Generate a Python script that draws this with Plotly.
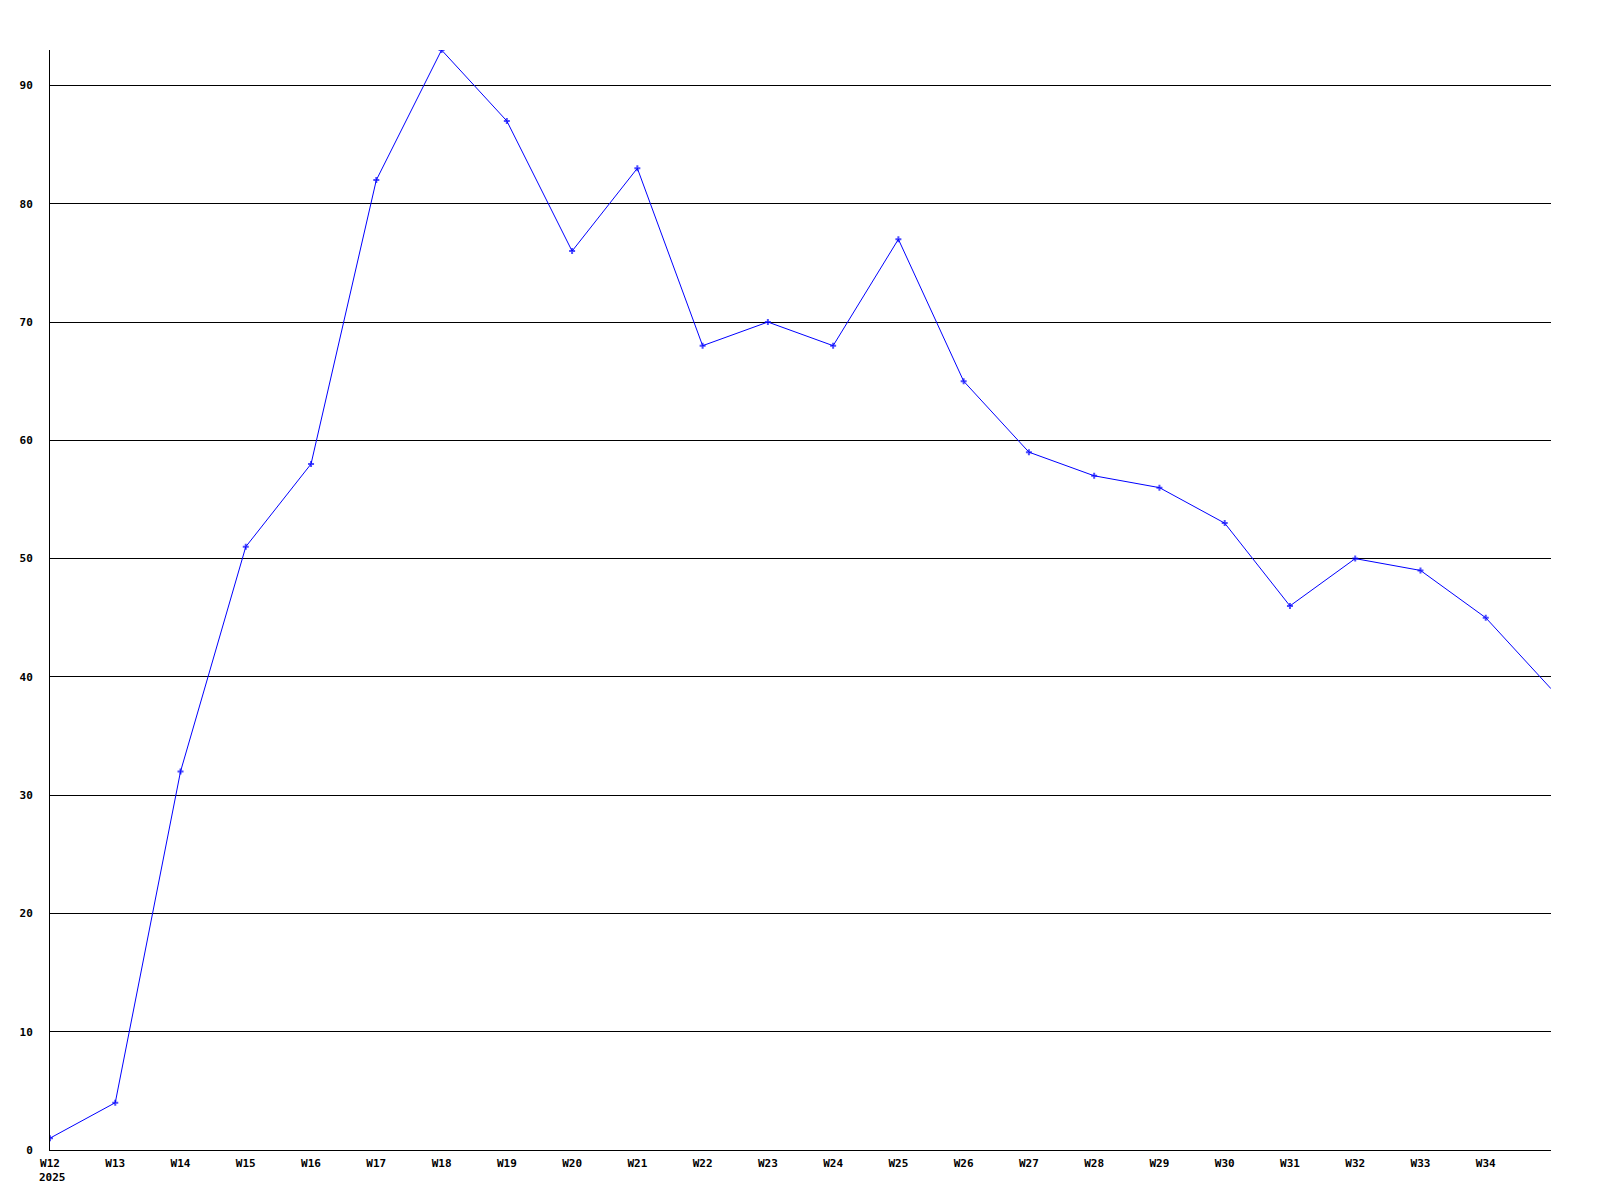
import plotly.graph_objects as go

weeks = [12, 13, 14, 15, 16, 17, 18, 19, 20, 21, 22, 23, 24, 25, 26, 27, 28, 29, 30, 31, 32, 33, 34, 35]
values = [1, 4, 32, 51, 58, 82, 93, 87, 76, 83, 68, 70, 68, 77, 65, 59, 57, 56, 53, 46, 50, 49, 45, 39]
tick_weeks = list(range(12, 35))
tick_labels = [f"W{w}" for w in range(12, 35)]
year_label = "2025"
y_ticks = [0, 10, 20, 30, 40, 50, 60, 70, 80, 90]

font = dict(family="DejaVu Sans Mono, Liberation Mono, monospace", size=11, color="black", weight="bold")

marker_sizes = [5] * (len(weeks) - 1) + [0]

fig = go.Figure()
fig.add_trace(go.Scatter(
    x=weeks, y=values, mode="lines+markers",
    line=dict(color="#0000ff", width=1),
    marker=dict(symbol="cross", size=marker_sizes, color="#0000ff", line=dict(width=0)),
    cliponaxis=True, showlegend=False,
))

fig.add_annotation(
    x=tick_weeks[0], xref="x", y=0, yref="paper",
    text=year_label, showarrow=False, font=font,
    xanchor="left", yanchor="middle", xshift=-13, yshift=-27,
)

fig.update_layout(
    width=1584, height=1184,
    margin=dict(l=42, r=41, t=42, b=42),
    paper_bgcolor="white", plot_bgcolor="white",
    font=font,
    xaxis=dict(
        range=[12, 35], tickvals=tick_weeks, ticktext=tick_labels,
        showgrid=False, zeroline=False, showline=True, linecolor="black", linewidth=1,
        ticks="", tickfont=font, ticklabelstandoff=3, automargin=False,
    ),
    yaxis=dict(
        range=[0, 93], tickvals=y_ticks,
        showgrid=True, gridcolor="black", gridwidth=1, zeroline=False,
        showline=True, linecolor="black", linewidth=1,
        ticks="", tickfont=font, ticklabelstandoff=14, automargin=False,
    ),
)

fig.write_html("out.html")
